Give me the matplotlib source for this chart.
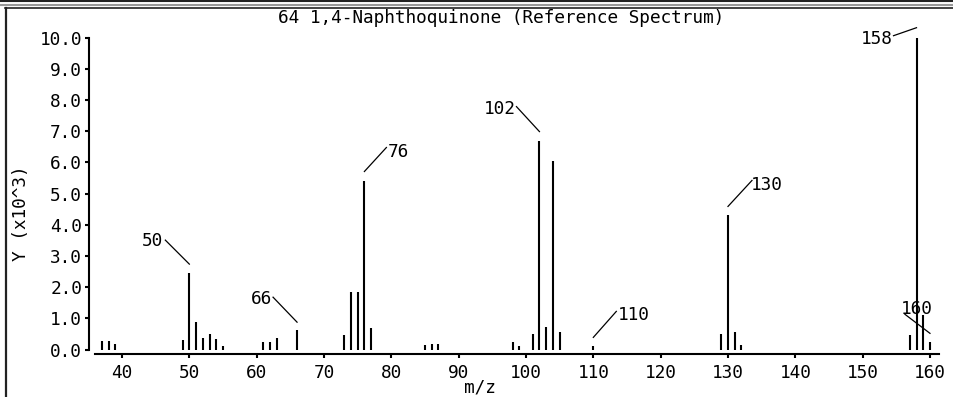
import numpy as np
import matplotlib.pyplot as plt
import matplotlib.transforms as mtransforms
from matplotlib.lines import Line2D
plt.switch_backend("agg")

# spectrum data (intensity in units of 10^3)
mz = [37, 38, 39, 49, 50, 51, 52, 53, 54, 55, 61, 62, 63, 66,
      73, 74, 75, 76, 77, 85, 86, 87, 98, 99, 101, 102, 103, 104, 105,
      110, 129, 130, 131, 132, 157, 158, 159, 160]
intensity = [0.27, 0.27, 0.18, 0.30, 2.45, 0.87, 0.37, 0.50, 0.34, 0.10,
             0.23, 0.25, 0.37, 0.62, 0.45, 1.85, 1.85, 5.42, 0.68,
             0.13, 0.18, 0.18, 0.23, 0.10, 0.49, 6.70, 0.73, 6.05, 0.55,
             0.10, 0.50, 4.30, 0.55, 0.15, 0.45, 10.0, 1.12, 0.23]
labelled = [50, 66, 76, 102, 110, 130, 158, 160]

title = "64 1,4-Naphthoquinone (Reference Spectrum)"
xticks = list(range(40, 161, 10))
yticks = list(range(0, 11))

# leader line / label placement in pixels relative to peak top:
# (line start dx, dy, line end dy, text dx, text dy, ha)
leader_style = {
    50: (-24, 33, 9, -26, 32, 'right'),
    66: (-24, 33, 8, -25, 31, 'right'),
    76: (22, 33, 9, 23, 29, 'left'),
    102: (-23, 34, 9, -24, 32, 'right'),
    110: (23, 35, 9, 24, 31, 'left'),
    130: (24, 35, 9, 23, 30, 'left'),
    158: (-23, 2, 10, -24, -1, 'right'),
    160: (-25, 28, 9, -29, 33, 'left'),
}

FS = 12.8
plt.rcParams['font.family'] = 'DejaVu Sans Mono'
plt.rcParams['font.size'] = FS

W, H = 954, 397
fig = plt.figure(figsize=(W / 100, H / 100), dpi=100)
ax_h = 359.3 - 43
ax = fig.add_axes([89 / W, 43 / H, 850 / W, ax_h / H])

xmin, xmax = 35.1, 161.34
ax.set_xlim(xmin, xmax)
ax.set_ylim(-0.144, 10.0)

ax.vlines(mz, 0, intensity, colors='k', lw=1.5, clip_on=False)

for s in ['top', 'right']:
    ax.spines[s].set_visible(False)
ax.spines['left'].set_bounds(0, 10)
ax.spines['bottom'].set_bounds(36.0, xmax)
ax.spines['left'].set_linewidth(1.5)
ax.spines['bottom'].set_linewidth(1.5)

ax.set_xticks(xticks)
ax.set_xticklabels([str(t) for t in xticks])
ax.set_yticks(yticks)
ax.set_yticklabels([f"{t:.1f}" for t in yticks])
ax.tick_params(axis='x', length=3, width=1.5, pad=4, labelsize=FS)
ax.tick_params(axis='y', length=3, width=1.5, pad=2, labelsize=FS)

ax.set_xlabel("m/z", fontsize=FS, va='center')
ax.xaxis.set_label_coords((480 - 89) / 850, -(388 - 354) / ax_h)
ax.set_ylabel("Y (x10^3)", fontsize=FS, va='center')
ax.yaxis.set_label_coords(-(89 - 21) / 850, (397 - 213 - 43) / ax_h)

fig.text(501 / W, 1 - 18 / H, title, ha='center', va='center', fontsize=FS)

# peak labels with leader lines, placed in display pixels
ident = mtransforms.IdentityTransform()
for m in labelled:
    h = intensity[mz.index(m)]
    px, py = ax.transData.transform((m, h))
    sdx, sdy, edy, tdx, tdy, ha = leader_style[m]
    fig.add_artist(Line2D([px + sdx, px], [py + sdy, py + edy], color='k',
                          lw=0.9, transform=ident))
    fig.text(px + tdx, py + tdy, str(m), ha=ha, va='center', fontsize=FS,
             transform=ident)

# window frame
fig.add_artist(Line2D([0, 1], [1 - 1 / H, 1 - 1 / H], color='#222222', lw=1.5,
                      transform=fig.transFigure))
fig.add_artist(Line2D([0, 1], [1 - 4.5 / H, 1 - 4.5 / H], color='#999999', lw=1.5,
                      transform=fig.transFigure))
fig.add_artist(Line2D([5 / W, 1], [1 - 7.5 / H, 1 - 7.5 / H], color='#222222', lw=1.2,
                      transform=fig.transFigure))
fig.add_artist(Line2D([6 / W, 6 / W], [0, 1 - 7.5 / H], color='#222222', lw=1.6,
                      transform=fig.transFigure))

fig.savefig("out.png", dpi=100)
